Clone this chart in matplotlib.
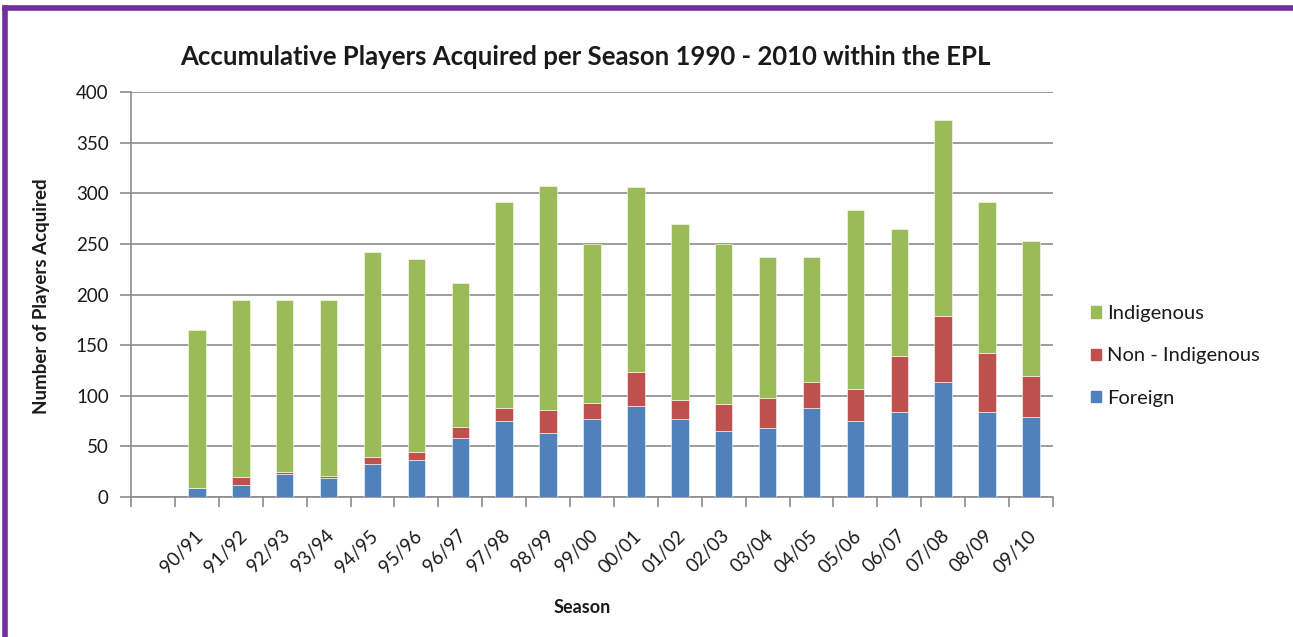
import matplotlib
matplotlib.use("Agg")
import matplotlib.pyplot as plt
import matplotlib.transforms as mtransforms
from matplotlib.lines import Line2D
from matplotlib.patches import Patch
import numpy as np

seasons = ["", "90/91", "91/92", "92/93", "93/94", "94/95", "95/96", "96/97", "97/98",
           "98/99", "99/00", "00/01", "01/02", "02/03", "03/04", "04/05", "05/06",
           "06/07", "07/08", "08/09", "09/10"]
foreign = [0, 9, 12, 23, 19, 33, 37, 58, 75, 63, 77, 90, 77, 65, 68, 88, 75, 84, 114, 84, 79]
non_indigenous = [0, 0, 8, 2, 2, 7, 7, 11, 13, 23, 16, 33, 19, 27, 30, 26, 32, 55, 65, 58, 41]
indigenous = [0, 156, 175, 170, 174, 202, 191, 142, 203, 221, 157, 183, 174, 158, 139, 123, 176, 126, 193, 149, 133]

C_GREEN = "#9BBB59"
C_RED = "#C0504D"
C_BLUE = "#4F81BD"
GRID = "#8C8C8C"
TXT = "#1a1a1a"

plt.rcParams['font.family'] = ['Lato', 'DejaVu Sans']

fig = plt.figure(figsize=(12.93, 6.37), dpi=100)
ax = fig.add_axes([131/1293, 1-497/637, (1053-131)/1293, (497-92)/637])

x = np.arange(len(seasons))
f = np.array(foreign)
n = np.array(non_indigenous)
i = np.array(indigenous)
w = 0.40
ax.bar(x, f, w, color=C_BLUE, edgecolor="white", linewidth=0.4, zorder=3)
ax.bar(x, n, w, bottom=f, color=C_RED, edgecolor="white", linewidth=0.4, zorder=3)
ax.bar(x, i, w, bottom=f + n, color=C_GREEN, edgecolor="white", linewidth=0.4, zorder=3)

ax.set_xlim(-0.5, len(seasons) - 0.5)
ax.set_ylim(0, 400)
ax.set_yticks(np.arange(0, 401, 50))
ax.yaxis.grid(True, color=GRID, linewidth=1.2, zorder=0)
ax.set_axisbelow(True)

for s in ["top", "right"]:
    ax.spines[s].set_visible(False)
for s in ["left", "bottom"]:
    ax.spines[s].set_color(GRID)
    ax.spines[s].set_linewidth(1.2)

ax.set_xticks(x)
ax.set_xticklabels(seasons, rotation=45, ha="right", va="center", rotation_mode="anchor",
                   fontsize=13.5, color=TXT)
ax.tick_params(axis="x", which="major", length=0, pad=26)
offset = mtransforms.ScaledTranslation(3/100, 0, fig.dpi_scale_trans)
for lab in ax.get_xticklabels():
    lab.set_transform(lab.get_transform() + offset)
ax.set_xticks(np.arange(-0.5, len(seasons), 1.0), minor=True)
ax.tick_params(axis="x", which="minor", length=7, color=GRID, width=1.2)
ax.tick_params(axis="y", length=8, color=GRID, width=1.2, labelsize=13.5, labelcolor=TXT, pad=8)

ax.set_xlabel("Season", fontsize=13, fontweight="bold", color=TXT)
ax.xaxis.set_label_coords((582-131)/922, (497-599)/405)
ax.set_ylabel("Number of Players Acquired", fontsize=13.5, fontweight="bold", color=TXT)
ax.yaxis.set_label_coords((50-131)/922, (497-296)/405)

fig.text(585/1293, 1-57/637, "Accumulative Players Acquired per Season 1990 - 2010 within the EPL",
         ha="center", va="center", fontsize=18.5, fontweight="bold", color=TXT)

handles = [Patch(color=C_GREEN), Patch(color=C_RED), Patch(color=C_BLUE)]
labels = ["Indigenous", "Non - Indigenous", "Foreign"]
leg = fig.legend(handles, labels, loc="center left", bbox_to_anchor=(1091/1293, 1-356/637),
                 frameon=False, fontsize=14.5, handlelength=0.5, handleheight=0.5,
                 handletextpad=0.3, labelspacing=1.25, borderpad=0, borderaxespad=0)
for t in leg.get_texts():
    t.set_color(TXT)

# purple frame
fig.add_artist(Line2D([5/1293, 5/1293], [0, 1-8/637], transform=fig.transFigure, color="#7030A0", lw=4))
fig.add_artist(Line2D([5/1293, 1], [1-8/637, 1-8/637], transform=fig.transFigure, color="#7030A0", lw=4))

fig.savefig("out.png", dpi=100)
